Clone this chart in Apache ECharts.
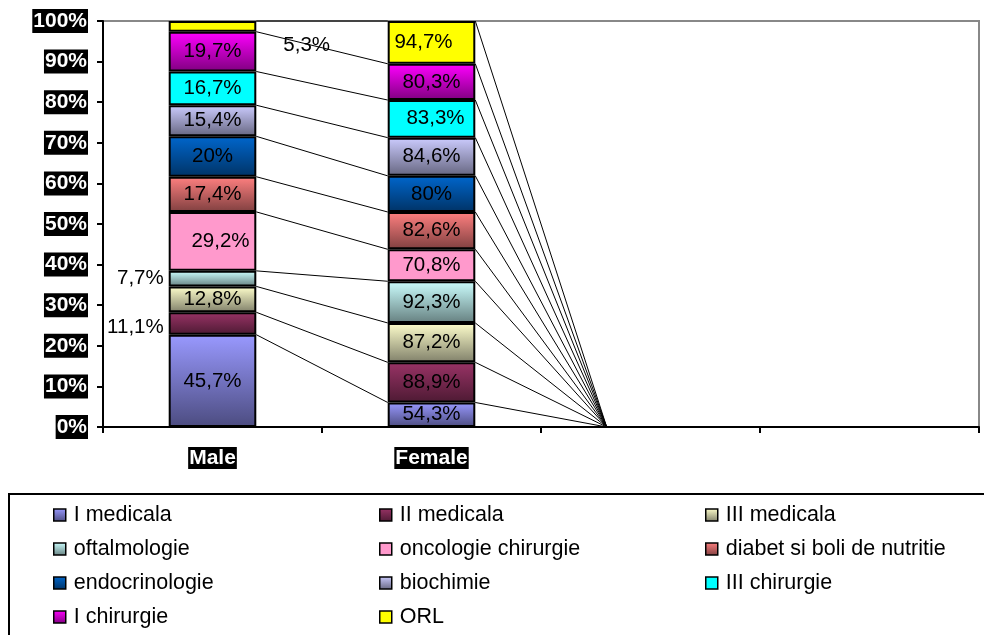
<!DOCTYPE html>
<html>
<head>
<meta charset="utf-8">
<script src="https://cdn.jsdelivr.net/npm/echarts@6/dist/echarts.min.js"></script>
<style>
html, body { margin: 0; padding: 0; background: #fff; }
#chart { width: 984px; height: 635px; }
</style>
</head>
<body>
<div id="chart"></div>
<script>
var categories = ['Male', 'Female', '', ''];
var departments = ['I medicala', 'II medicala', 'III medicala', 'oftalmologie', 'oncologie chirurgie',
    'diabet si boli de nutritie', 'endocrinologie', 'biochimie', 'III chirurgie', 'I chirurgie', 'ORL'];
var male   = [45.7, 11.1, 12.8, 7.7, 29.2, 17.4, 20, 15.4, 16.7, 19.7, 5.3];
var female = [54.3, 88.9, 87.2, 92.3, 70.8, 82.6, 80, 84.6, 83.3, 80.3, 94.7];
var blank  = [0, 0, 0, 0, 0, 0, 0, 0, 0, 0, 0];
var columns = [male, female, blank, blank];

// styles
var font = 'Liberation Sans, Arial, sans-serif';
var topColors    = ['#9999ff', '#993366', '#ffffcc', '#ccffff', '#ff99cc', '#ff8080', '#0066cc', '#ccccff', '#00ffff', '#ff00ff', '#ffff00'];
var bottomColors = ['#4c4c80', '#4d1a33', '#80806a', '#668080', '#ff99cc', '#804040', '#003366', '#666680', '#00ffff', '#800080', '#ffff00'];
// hand-placed labels, keyed "category-series"
var labelTweaks = {
    '0-1': { position: 'left', offset: [0, 4] },
    '0-3': { position: 'left' },
    '0-4': { offset: [8, 0] },
    '0-10': { position: 'right', offset: [22, 19] },
    '1-8': { offset: [4, 0] },
    '1-10': { offset: [-8, 0] }
};
var barFrac = 0.4;

// 100% stacked shares and cumulative tops
var shares = columns.map(function (col) {
    var total = col.reduce(function (a, b) { return a + b; }, 0);
    return col.map(function (v) { return total ? v / total * 100 : 0; });
});
var tops = shares.map(function (s) {
    var acc = 0;
    return s.map(function (v) { acc += v; return acc; });
});

var connectors = [];
for (var c = 0; c < categories.length - 1; c++) {
    for (var i = 0; i < departments.length; i++) {
        connectors.push([c, tops[c][i], c + 1, tops[c + 1][i]]);
    }
}

function fmt(v) {
    return String(v).replace('.', ',') + '%';
}

var series = departments.map(function (name, i) {
    return {
        name: name,
        type: 'bar',
        stack: 'all',
        barWidth: (barFrac * 100) + '%',
        data: categories.map(function (cat, ci) {
            var item = { value: shares[ci][i], raw: columns[ci][i] };
            if (labelTweaks[ci + '-' + i]) item.label = labelTweaks[ci + '-' + i];
            return item;
        }),
        itemStyle: {
            color: new echarts.graphic.LinearGradient(0, 0, 0, 1, [
                { offset: 0, color: topColors[i] },
                { offset: 1, color: bottomColors[i] }
            ]),
            borderColor: '#000',
            borderWidth: 2
        },
        label: {
            show: true,
            position: 'inside',
            color: '#000',
            fontSize: 20.5,
            fontFamily: font,
            formatter: function (p) { return p.data.raw ? fmt(p.data.raw) : ''; }
        },
        emphasis: { disabled: true }
    };
});

// series lines between neighbouring columns
series.push({
    type: 'custom',
    coordinateSystem: 'cartesian2d',
    encode: { x: [0, 2], y: [1, 3] },
    data: connectors,
    z: 3,
    silent: true,
    renderItem: function (params, api) {
        var a = api.coord([api.value(0), api.value(1)]);
        var b = api.coord([api.value(2), api.value(3)]);
        var half = api.size([1, 0])[0] * barFrac / 2;
        return {
            type: 'line',
            shape: { x1: a[0] + half, y1: a[1], x2: b[0] - half, y2: b[1] },
            style: { stroke: '#000', lineWidth: 1 }
        };
    }
});

var legendCols = [[0, 3, 6, 9], [1, 4, 7, 10], [2, 5, 8]];
var legendLeft = [53, 379, 705];

var myChart = echarts.init(document.getElementById('chart'));
var option = {
    animation: false,
    grid: {
        left: 103, right: 5, top: 21, bottom: 208,
        show: true, borderColor: '#888', borderWidth: 2
    },
    xAxis: {
        type: 'category',
        data: categories,
        axisLine: { lineStyle: { color: '#000', width: 2 } },
        axisTick: { show: true, length: 6, lineStyle: { color: '#000', width: 2 } },
        axisLabel: {
            margin: 20,
            interval: 0,
            formatter: function (v) { return v ? '{b|' + v + '}' : ''; },
            rich: {
                b: { color: '#fff', backgroundColor: '#000', fontWeight: 'bold', fontSize: 21, fontFamily: font, padding: [1, 1, 0, 1] }
            }
        }
    },
    yAxis: {
        type: 'value',
        min: 0, max: 100, interval: 10,
        axisLine: { show: true, lineStyle: { color: '#000', width: 2 } },
        axisTick: { show: true, length: 6, lineStyle: { color: '#000', width: 2 } },
        splitLine: { show: false },
        axisLabel: {
            formatter: '{value}%',
            color: '#fff',
            backgroundColor: '#000',
            fontWeight: 'bold',
            fontSize: 21,
            fontFamily: font,
            padding: [2, 1, 1, 1],
            margin: 15
        }
    },
    legend: legendCols.map(function (col, k) {
        return {
            orient: 'vertical',
            left: legendLeft[k],
            top: 504,
            padding: 0,
            itemGap: 12,
            itemWidth: 12,
            itemHeight: 12,
            icon: 'rect',
            selectedMode: false,
            data: col.map(function (i) { return departments[i]; }),
            itemStyle: { borderColor: '#000', borderWidth: 1.5 },
            textStyle: { fontSize: 21.5, color: '#000', fontFamily: font, padding: [0, 0, 0, 3] }
        };
    }),
    graphic: [{
        type: 'rect',
        shape: { x: 9, y: 494, width: 1000, height: 200 },
        style: { fill: 'none', stroke: '#000', lineWidth: 2 },
        silent: true
    }],
    series: series
};
myChart.setOption(option);
</script>
</body>
</html>
